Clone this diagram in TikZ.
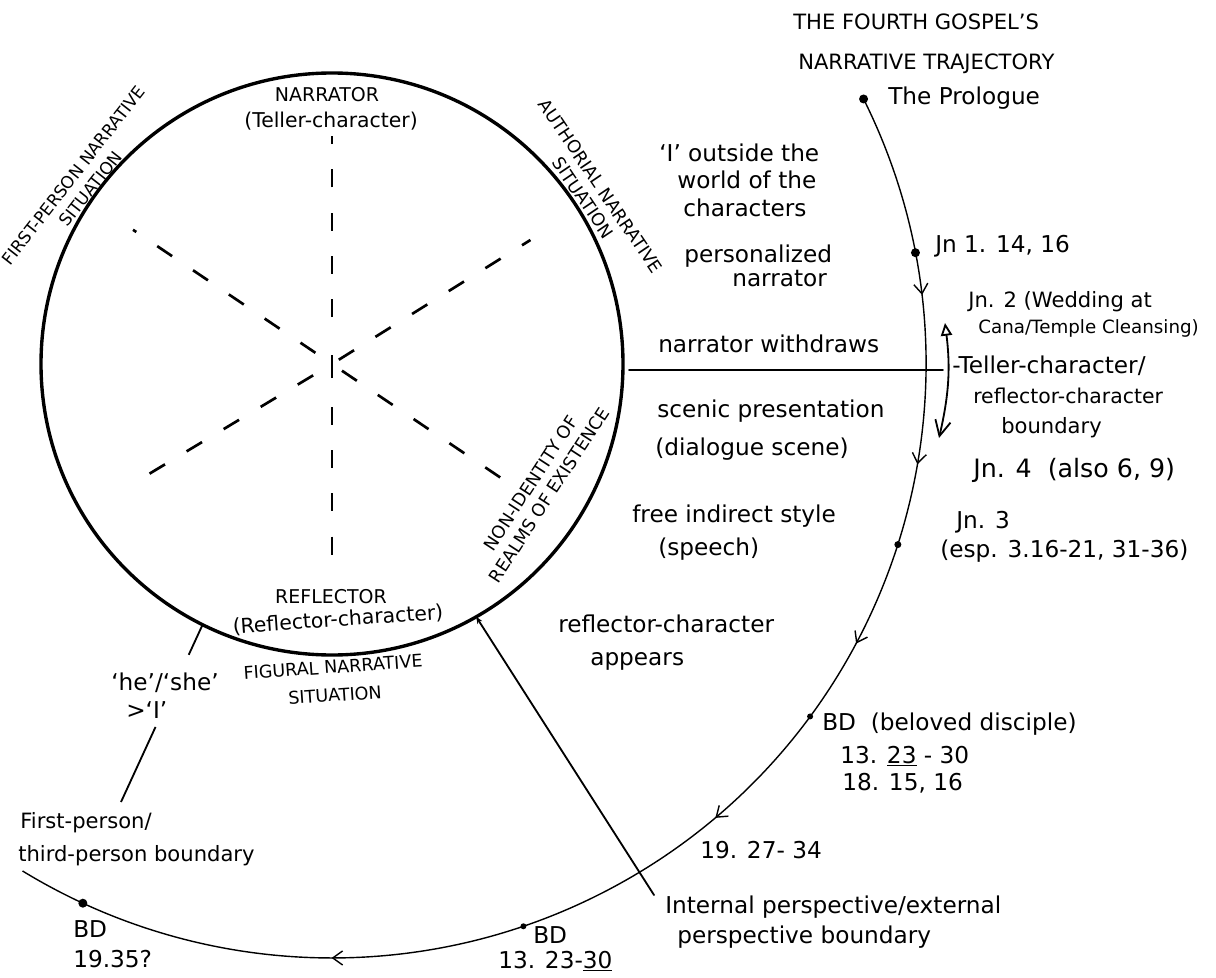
\documentclass[tikz,border=0pt]{standalone}
\usepackage{fontspec}
\setmainfont{DejaVu Sans}
\usepackage{tikz}
\usepackage{tkz-euclide}
\usetikzlibrary{calc,arrows.meta,decorations.markings}

\tikzset{
  hand/.style={font=\fontsize{16.5}{20}\selectfont,inner sep=0pt,anchor=base west},
  handsm/.style={hand,font=\fontsize{14.5}{17}\selectfont},
  handxs/.style={hand,font=\fontsize{13}{15}\selectfont},
  handbg/.style={hand,font=\fontsize{18}{21}\selectfont},
  caps/.style={font=\fontsize{12.5}{15}\selectfont,inner sep=0pt,align=center},
  rim/.style={line width=2.4pt},
  spoke/.style={line width=1.9pt,dash pattern=on 0.45cm off 0.63cm},
  track/.style={line width=1pt},
  lead/.style={line width=1.3pt},
  >={Straight Barb[length=7pt,width=10pt]}
}

\begin{document}
\begin{tikzpicture}[x=0.025cm,y=0.025cm]
  \useasboundingbox (0,0) rectangle (1216,-978);
  \def\r{291}
  \def\R{594}
  \tkzDefPoint(332,-364){O}

  % circle of narrative situations
  \draw[rim] (O) circle[radius=\r];
  \foreach \a/\s/\l in {90/47/228,270/43/200,146/20/240,326/12/203,32/8/234,211/22/238}
    \draw[spoke] ($(O)+(\a:\s)$) -- ($(O)+(\a:\l)$);
  \draw[line width=1.9pt] ($(O)+(0,-14)$) -- ($(O)+(0,9)$);

  \node[caps,font=\fontsize{13.5}{16}\selectfont] (narr) at (327,-95) {NARRATOR};
  \node[caps,font=\fontsize{14.5}{17}\selectfont] (teller) at (331,-121) {(Teller-character)};
  \node[caps,font=\fontsize{13.5}{16}\selectfont] (refl) at (331,-597) {REFLECTOR};
  \node[caps,font=\fontsize{14.5}{17}\selectfont,rotate=4] (reflc) at (338,-620) {(Reflector-character)};
  \node[caps,font=\fontsize{12.5}{20}\selectfont,rotate=4] (fig) at (334,-681) {FIGURAL NARRATIVE\\SITUATION};
  \node[caps,font=\fontsize{12}{15.5}\selectfont,rotate=52] (fps) at (82,-182) {FIRST-PERSON NARRATIVE\\SITUATION};
  \node[caps,font=\fontsize{12.5}{15}\selectfont,rotate=-56] (auth) at (592,-192) {AUTHORIAL NARRATIVE\\SITUATION};
  \node[caps,font=\fontsize{12.5}{15.5}\selectfont,rotate=57] (nonid) at (540,-489) {NON-IDENTITY OF\\REALMS OF EXISTENCE};

  % the trajectory
  \draw[track,postaction={decorate},decoration={markings,
      mark=at position .134 with {\arrow{>}},
      mark=at position .245 with {\arrow{>}},
      mark=at position .369 with {\arrow{>}},
      mark=at position .516 with {\arrow{>}},
      mark=at position .788 with {\arrow{>}}}]
    (O) ++(26.5:\R) arc[start angle=26.5,end angle=-121.4,radius=\R];
  \foreach \a/\n/\s in {26.5/t0/4.5,10.8/t1/4.5,-17.7/t2/3.5,-36.4/t3/3,-71.2/t4/3,-114.8/t5/4.5}{
    \path (O) ++(\a:\R) coordinate (\n);
    \fill (\n) circle[radius=\s];
  }

  % boundaries
  \tkzDefPoint(629,-370){wdL}
  \tkzDefPoint(943,-370){wdR}
  \tkzDrawSegment[lead](wdL,wdR)
  \tkzDefPoint(945,-323){ta}
  \tkzDefPoint(939,-438){tb}
  \draw[lead,{Triangle[open,length=9pt,width=8pt]}-{Straight Barb[length=11pt,width=11pt]}] (ta) to[bend left=10] (tb);
  \path (O) ++(243.6:\r) coordinate (c1);
  \tkzDefPoint(121,-802){c2}
  \draw[lead] (c1) -- ($(c1)!.17!(c2)$) ($(c1)!.577!(c2)$) -- (c2);
  \path (O) ++(-60.3:\r) coordinate (c3);
  \tkzDefPoint(654,-895){c4}
  \tkzDrawSegment[lead,{Stealth[length=5pt,width=4pt]}-](c3,c4)

  % title
  \node[hand,font=\fontsize{15}{18}\selectfont] (title1) at (793,-30) {THE FOURTH GOSPEL'S};
  \node[hand,font=\fontsize{15}{18}\selectfont] (title2) at (798,-70) {NARRATIVE TRAJECTORY};

  % stations
  \node[hand] (prol) at (888,-105) {The Prologue};
  \node[hand] (jnA) at (935,-253) {Jn 1. 14, 16};
  \node[hand,font=\fontsize{15}{18}\selectfont] (jnB1) at (968,-307) {Jn. 2 (Wedding at};
  \node[handxs] (jnB2) at (978,-333) {Cana/Temple Cleansing)};
  \node[hand] (tel1) at (952,-373) {-Teller-character/};
  \node[handsm] (tel2) at (973,-403) {reflector-character};
  \node[handsm,font=\fontsize{15}{18}\selectfont] (tel3) at (1001,-433) {boundary};
  \node[handbg] (jnC) at (973,-477) {Jn. 4 \ (also 6, 9)};
  \node[hand] (jnD1) at (956,-528) {Jn. 3};
  \node[hand] (jnD2) at (940,-557) {(esp. 3.16-21, 31-36)};
  \node[hand] (bdA1) at (822,-730) {BD \ (beloved disciple)};
  \node[hand] (bdA2) at (840,-763) {13. \underline{23} - 30};
  \node[hand] (bdA3) at (842,-790) {18. 15, 16};
  \node[hand] (jnE) at (700,-858) {19. 27- 34};
  \node[hand] (bdB1) at (533,-943) {BD};
  \node[hand] (bdB2) at (498,-968) {13. 23-\underline{30}};
  \node[hand] (bdC1) at (73,-937) {BD};
  \node[hand] (bdC2) at (73,-967) {19.35?};

  % narrative features
  \node[hand] (out1) at (659,-162) {`I' outside the};
  \node[hand] (out2) at (677,-189) {world of the};
  \node[hand] (out3) at (683,-217) {characters};
  \node[hand] (pers1) at (684,-263) {personalized};
  \node[hand] (pers2) at (732,-287) {narrator};
  \node[hand] (wd) at (658,-352) {narrator withdraws};
  \node[hand] (scen1) at (657,-417) {scenic presentation};
  \node[hand] (scen2) at (655,-455) {(dialogue scene)};
  \node[hand] (free1) at (632,-522) {free indirect style};
  \node[hand] (free2) at (658,-555) {(speech)};
  \node[hand] (rc1) at (558,-632) {reflector-character};
  \node[hand] (rc2) at (590,-665) {appears};
  \node[hand] (ip1) at (665,-913) {Internal perspective/external};
  \node[hand] (ip2) at (677,-943) {perspective boundary};
  \node[hand] (hs1) at (111,-690) {`he'/`she'};
  \node[hand] (hs2) at (126,-718) {>`I'};
  \node[hand,font=\fontsize{15}{18}\selectfont] (fp1) at (20,-828) {First-person/};
  \node[hand,font=\fontsize{15}{18}\selectfont] (fp2) at (18,-861) {third-person boundary};
\end{tikzpicture}
\end{document}
